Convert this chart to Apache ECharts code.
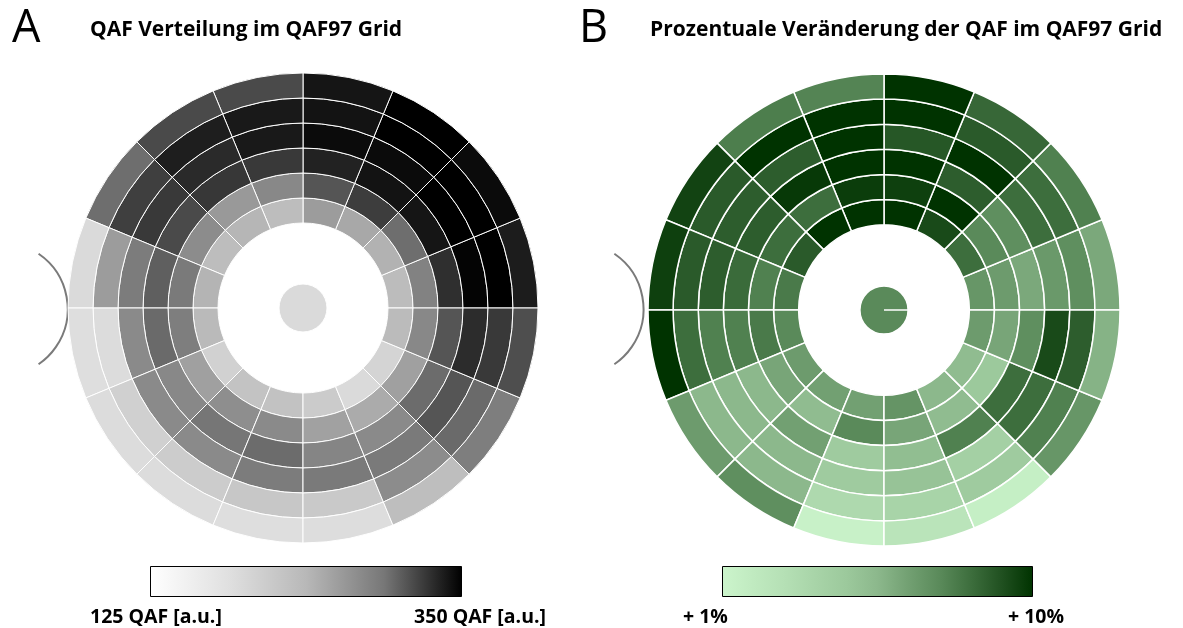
<!DOCTYPE html>
<html>
<head>
<meta charset="utf-8">
<script src="https://cdn.jsdelivr.net/npm/echarts@6/dist/echarts.min.js"></script>
<style>
  html, body { margin: 0; padding: 0; background: #ffffff; }
  #chart { width: 1183px; height: 628px; }
</style>
</head>
<body>
<div id="chart"></div>
<script>
// ---------------- DATA ----------------
// 16 sectors of 22.5°, index 0 starts at 3 o'clock and runs counter-clockwise
const sectorLabels = ['0°','22.5°','45°','67.5°','90°','112.5°','135°','157.5°',
                      '180°','202.5°','225°','247.5°','270°','292.5°','315°','337.5°'];
// 6 rings, ring 1 = innermost
const ringLabels = ['Ring 1','Ring 2','Ring 3','Ring 4','Ring 5','Ring 6'];

// Panel A: QAF values [a.u.]
const qafCenter = 190;
const qafRing1 = [232, 243, 251, 262, 231, 239, 231, 241, 235, 202, 222, 223, 211, 190, 198, 233];
const qafRing2 = [284, 298, 321, 310, 279, 264, 276, 291, 288, 258, 274, 277, 257, 249, 258, 279];
const qafRing3 = [328, 340, 341, 334, 323, 324, 315, 305, 300, 279, 294, 299, 282, 277, 299, 310];
const qafRing4 = [348, 350, 345, 345, 338, 330, 323, 289, 277, 277, 277, 289, 291, 291, 310, 329];
const qafRing5 = [350, 350, 350, 341, 338, 336, 320, 262, 187, 204, 209, 216, 214, 276, 300, 323];
const qafRing6 = [337, 345, 350, 340, 315, 315, 298, 190, 184, 187, 187, 184, 186, 229, 288, 313];

// Panel B: percentage change of QAF [%]
const changeCenter = 7.3;
const changeRing1 = [6.8, 8.2, 9.3, 10, 10, 10, 8.8, 7.8, 7.3, 6.6, 6.4, 6.4, 6.9, 5.5, 5.3, 6.6];
const changeRing2 = [6.6, 7.3, 10, 9.6, 9.7, 8.2, 8.2, 7.6, 7.8, 6.2, 5.3, 7.3, 6.2, 5.3, 4.6, 6.2];
const changeRing3 = [6.1, 7.1, 8.7, 10, 10, 9.8, 8.7, 8.3, 7.6, 5.5, 6.4, 4.4, 5.2, 7.6, 8.2, 7.1];
const changeRing4 = [6.7, 8.2, 10, 8.9, 10, 8.7, 8.7, 8.7, 7.6, 5.5, 5.5, 4.4, 4.9, 4.0, 8.2, 9.3];
const changeRing5 = [7.1, 8.2, 8.8, 10, 10, 10, 8.8, 8.8, 8.2, 5.5, 5.5, 3.3, 3.7, 4.4, 7.6, 8.7];
const changeRing6 = [6.1, 7.6, 8.4, 10, 7.5, 7.7, 9.5, 9.6, 10, 6.6, 7.1, 1.3, 2.4, 1.5, 6.8, 5.7];

// colour scale ranges and labels
const qafRange = [125, 350];
const qafScaleLabels = ['125 QAF [a.u.]', '350 QAF [a.u.]'];
const changeRange = [1, 10];
const changeScaleLabels = ['+ 1%', '+ 10%'];

const titleA = 'QAF Verteilung im QAF97 Grid';
const titleB = 'Prozentuale Veränderung der QAF im QAF97 Grid';

// ---------------- STYLE ----------------
const grayRamp = ['#ffffff', '#e0e0e0', '#b8b8b8', '#777777', '#000000'];
const greenRamp = ['#ccf5cc', '#c0eac0', '#b5e0b5', '#a8d4a8', '#9cc99c', '#8cb88c',
                   '#72a072', '#5a8a5a', '#3d6e3d', '#205020', '#003300'];

// grid geometry in ring units (1 unit = ring width)
const N_SEC = sectorLabels.length;
const N_RING = ringLabels.length;
const HOLE_R = 3.4;      // inner radius of ring 1
const CENTER_R = 0.96;   // radius of central field

function buildCells(rings, center) {
  const out = [[-1, 0, center]];
  rings.forEach(function (arr, r) {
    arr.forEach(function (v, k) { out.push([r, k, v]); });
  });
  return out;
}
const qafCells = buildCells([qafRing1, qafRing2, qafRing3, qafRing4, qafRing5, qafRing6], qafCenter);
const changeCells = buildCells([changeRing1, changeRing2, changeRing3, changeRing4, changeRing5, changeRing6], changeCenter);

function cellRenderer(strokeWidth, seam) {
  return function (params, api) {
    const cs = params.coordSys;
    const ring = api.value(0), sec = api.value(1);
    let rIn, rOut, a0, a1, full = false;
    if (ring < 0) {
      rIn = 0; rOut = CENTER_R; a0 = 0;
      a1 = seam ? N_SEC - 0.003 : N_SEC; full = !seam;
    } else {
      rIn = HOLE_R + ring; rOut = rIn + 1; a0 = sec; a1 = sec + 1;
    }
    const p0 = api.coord([rOut, a0]);
    const p1 = api.coord([rOut, a1]);
    const q0 = api.coord([rIn, a0]);
    const R = Math.hypot(p0[0] - cs.cx, p0[1] - cs.cy);
    const R0 = Math.hypot(q0[0] - cs.cx, q0[1] - cs.cy);
    const sa = Math.atan2(p0[1] - cs.cy, p0[0] - cs.cx);
    let d = sa - Math.atan2(p1[1] - cs.cy, p1[0] - cs.cx);
    while (d <= 1e-9) d += Math.PI * 2;
    if (full) d = Math.PI * 2;
    return {
      type: 'sector',
      shape: { cx: cs.cx, cy: cs.cy, r0: R0, r: R, startAngle: sa, endAngle: sa - d, clockwise: false },
      style: { fill: api.visual('color'), stroke: '#ffffff', lineWidth: strokeWidth }
    };
  };
}

function hiddenAngle(i) {
  return { polarIndex: i, type: 'value', min: 0, max: N_SEC, startAngle: 0, clockwise: false,
    show: false, axisLine: { show: false }, axisTick: { show: false }, axisLabel: { show: false },
    splitLine: { show: false }, splitArea: { show: false } };
}
function hiddenRadius(i) {
  return { polarIndex: i, type: 'value', min: 0, max: HOLE_R + N_RING,
    show: false, axisLine: { show: false }, axisTick: { show: false }, axisLabel: { show: false },
    splitLine: { show: false }, splitArea: { show: false } };
}
function stops(ramp) {
  return ramp.map(function (c, i) { return { offset: i / (ramp.length - 1), color: c }; });
}
function txt(x, y, text, font, align, color) {
  return { type: 'text', x: x, y: y, silent: true,
    style: { text: text, font: font, fill: color || '#000000',
      textAlign: align, align: align, textVerticalAlign: 'middle', verticalAlign: 'middle' } };
}

const titleFont = 'bold 21px "Open Sans", Lato, sans-serif';
const letterFont = 'normal 45px "Open Sans", Lato, sans-serif';
const labelFont = 'bold 19.5px "Open Sans", Lato, sans-serif';

const chart = echarts.init(document.getElementById('chart'), null, { renderer: 'canvas' });
chart.setOption({
  animation: false,
  backgroundColor: '#ffffff',
  polar: [
    { center: [303, 308], radius: 235 },
    { center: [884, 310], radius: 236 }
  ],
  angleAxis: [hiddenAngle(0), hiddenAngle(1)],
  radiusAxis: [hiddenRadius(0), hiddenRadius(1)],
  visualMap: [
    { type: 'continuous', show: false, seriesIndex: 0, dimension: 2,
      min: qafRange[0], max: qafRange[1], inRange: { color: grayRamp } },
    { type: 'continuous', show: false, seriesIndex: 1, dimension: 2,
      min: changeRange[0], max: changeRange[1], inRange: { color: greenRamp } }
  ],
  series: [
    { type: 'custom', name: titleA, coordinateSystem: 'polar', polarIndex: 0,
      renderItem: cellRenderer(1, false), data: qafCells, silent: true },
    { type: 'custom', name: titleB, coordinateSystem: 'polar', polarIndex: 1,
      renderItem: cellRenderer(1.5, true), data: changeCells, silent: true }
  ],
  graphic: [
    txt(12, 29, 'A', letterFont, 'left'),
    txt(90, 30, titleA, titleFont, 'left'),
    txt(579, 29, 'B', letterFont, 'left'),
    txt(650, 30, titleB, titleFont, 'left'),
    // ear markers
    { type: 'arc', silent: true, shape: { cx: 0.7, cy: 309, r: 67, startAngle: -0.97, endAngle: 0.97 },
      style: { stroke: '#7a7a7a', lineWidth: 2, fill: null } },
    { type: 'arc', silent: true, shape: { cx: 576.5, cy: 309, r: 67, startAngle: -0.97, endAngle: 0.97 },
      style: { stroke: '#7a7a7a', lineWidth: 2, fill: null } },
    // colour bars
    { type: 'rect', silent: true, shape: { x: 150.5, y: 566.5, width: 311, height: 30 },
      style: { fill: { type: 'linear', x: 0, y: 0, x2: 1, y2: 0, colorStops: stops(grayRamp) },
        stroke: '#000000', lineWidth: 1 } },
    { type: 'rect', silent: true, shape: { x: 722.5, y: 566.5, width: 310, height: 30 },
      style: { fill: { type: 'linear', x: 0, y: 0, x2: 1, y2: 0, colorStops: stops(greenRamp) },
        stroke: '#000000', lineWidth: 1 } },
    txt(90, 617, qafScaleLabels[0], labelFont, 'left'),
    txt(546, 617, qafScaleLabels[1], labelFont, 'right'),
    txt(683, 617, changeScaleLabels[0], labelFont, 'left'),
    txt(1064, 617, changeScaleLabels[1], labelFont, 'right')
  ]
});
</script>
</body>
</html>
